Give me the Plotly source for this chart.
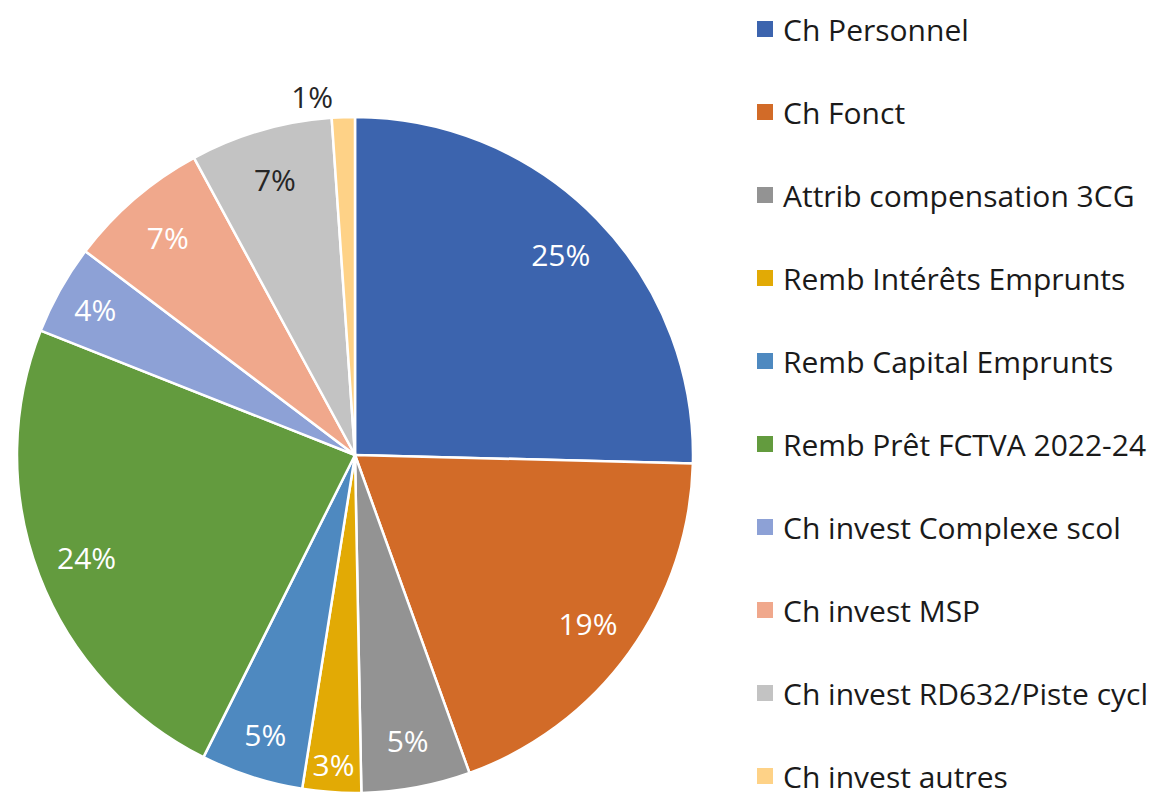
import plotly.graph_objects as go

labels = ["Ch Personnel", "Ch Fonct", "Attrib compensation 3CG", "Remb Intérêts Emprunts",
          "Remb Capital Emprunts", "Remb Prêt FCTVA 2022-24", "Ch invest Complexe scol",
          "Ch invest MSP", "Ch invest RD632/Piste cycl", "Ch invest autres"]
values = [25.4, 19.1, 5.2, 2.8, 4.9, 23.6, 4.3, 6.8, 6.8, 1.1]
colors = ["#3C64AE", "#D26B28", "#939393", "#E2AA05", "#4E89C0", "#639B3E",
          "#8DA1D6", "#F0A88C", "#C3C3C3", "#FED287"]
text_colors = ["white", "white", "white", "white", "white", "white",
               "white", "white", "#262626", "#262626"]
text_pos = ["inside"] * 9 + ["outside"]

FONT = "Open Sans, Calibri, sans-serif"
W, H = 1167, 797
cx, cy, R = 355, 455, 338
dom = dict(x=[(cx - R) / W, (cx + R) / W], y=[1 - (cy + R) / H, 1 - (cy - R) / H])

fig = go.Figure()
# slices
fig.add_trace(go.Pie(
    labels=labels, values=values, sort=False, direction="clockwise", rotation=0,
    marker=dict(colors=colors, line=dict(color="white", width=2.5)),
    textinfo="none", showlegend=False, hoverinfo="label+percent", domain=dom,
))
# percentage labels, placed in an outer ring (transparent overlay)
fig.add_trace(go.Pie(
    labels=labels, values=values, sort=False, direction="clockwise", rotation=0,
    hole=0.7,
    marker=dict(colors=["rgba(0,0,0,0)"] * len(values), line=dict(width=0)),
    texttemplate="%{percent:.0%}", textposition=text_pos,
    insidetextorientation="horizontal",
    textfont=dict(family=FONT, size=30, color=text_colors),
    showlegend=False, hoverinfo="skip", domain=dom,
))

# legend
leg_x0, leg_y0, leg_dy, sq = 757, 29, 83.0, 16
for i, (lab, col) in enumerate(zip(labels, colors)):
    yc = leg_y0 + i * leg_dy
    fig.add_shape(type="rect", xref="paper", yref="paper",
                  x0=leg_x0 / W, x1=(leg_x0 + sq) / W,
                  y0=1 - (yc + sq / 2) / H, y1=1 - (yc - sq / 2) / H,
                  fillcolor=col, line=dict(width=0))
    fig.add_annotation(xref="paper", yref="paper", x=(leg_x0 + sq + 8) / W, y=1 - yc / H,
                       text=lab, showarrow=False, xanchor="left", yanchor="middle",
                       font=dict(family=FONT, size=30, color="#1a1a1a"))

fig.update_layout(width=W, height=H, margin=dict(l=0, r=0, t=0, b=0),
                  paper_bgcolor="white", plot_bgcolor="white",
                  uniformtext=dict(minsize=28, mode="show"))
fig.write_html("out.html", config={"displayModeBar": False},
               post_script="document.body.style.margin='0';")
